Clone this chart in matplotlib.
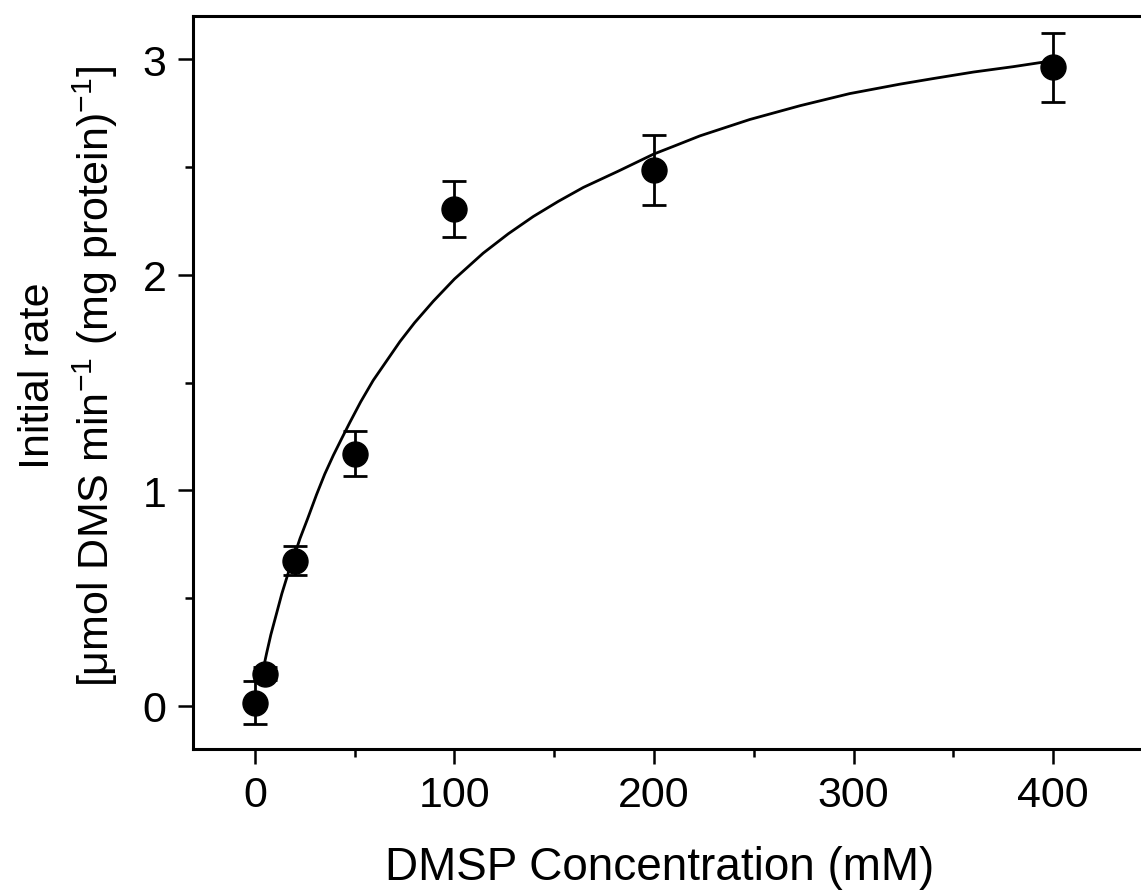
import matplotlib
matplotlib.use('Agg')
import matplotlib.pyplot as plt
from matplotlib.ticker import MultipleLocator

plt.rcParams['font.family'] = ['Liberation Sans', 'DejaVu Sans']
plt.rcParams['mathtext.fontset'] = 'custom'
plt.rcParams['mathtext.rm'] = 'Liberation Sans'

# measured points
conc = [0, 5, 20, 50, 100, 200, 400]
rate = [0.015, 0.15, 0.673, 1.17, 2.304, 2.486, 2.962]
err = [0.1, 0.03, 0.068, 0.105, 0.13, 0.163, 0.161]

# fitted curve
fit_x = [5, 5.9, 8, 10.9, 13.5, 16.7, 19.5, 22.6, 26.5, 30.9, 35, 39.3, 43.5,
         47.6, 53, 59.3, 66, 72.7, 80, 89.4, 100, 114.4, 127, 139.5, 152,
         164.6, 182, 199.7, 211, 223, 248, 273.2, 298, 323.3, 340, 360, 380, 400]
fit_y = [0.206, 0.245, 0.33, 0.43, 0.52, 0.616, 0.69, 0.776, 0.87, 0.98,
         1.075, 1.162, 1.24, 1.315, 1.41, 1.51, 1.60, 1.69, 1.777, 1.877,
         1.98, 2.10, 2.19, 2.27, 2.34, 2.405, 2.48, 2.559, 2.60, 2.644, 2.72,
         2.784, 2.84, 2.884, 2.91, 2.94, 2.965, 2.993]

fig = plt.figure(figsize=(11.41, 8.95), dpi=100)
ax = fig.add_axes([193 / 1141, 1 - 750 / 895, 960 / 1141, 733 / 895])

ax.plot(fit_x, fit_y, color='black', lw=2.0, zorder=2)
ax.errorbar(conc, rate, yerr=err, fmt='o', color='black', ms=18,
            elinewidth=2.0, capsize=8.5, capthick=2.0, zorder=3)

ax.set_xlim(-31, 450)
ax.set_ylim(-0.2, 3.2)
ax.xaxis.set_major_locator(MultipleLocator(100))
ax.xaxis.set_minor_locator(MultipleLocator(50))
ax.yaxis.set_major_locator(MultipleLocator(1))
ax.yaxis.set_minor_locator(MultipleLocator(0.5))
ax.tick_params(which='major', direction='out', length=11, width=1.8,
               labelsize=31, pad=8)
ax.tick_params(which='minor', direction='out', length=6, width=1.8)
for s in ax.spines.values():
    s.set_linewidth(2.2)

fig.text(660 / 1141, 1 - 868 / 895, 'DMSP Concentration (mM)', fontsize=33,
         ha='center', va='center')
fig.text(38 / 1141, 1 - 376 / 895, 'Initial rate', fontsize=31,
         rotation=90, ha='center', va='center')
fig.text(95 / 1141, 1 - 376 / 895,
         r'[$\mathrm{\mu}$mol DMS min$^{-1}$ (mg protein)$^{-1}$]',
         fontsize=31, rotation=90, ha='center', va='center')

fig.savefig('out.png', dpi=100)
